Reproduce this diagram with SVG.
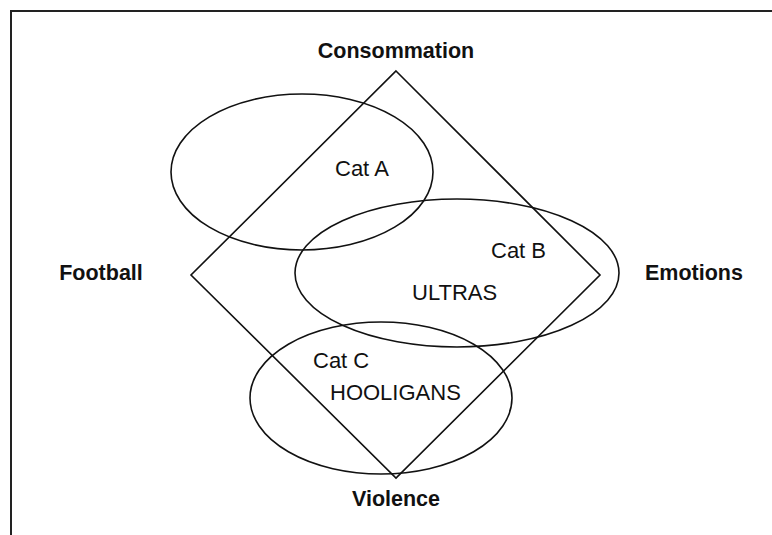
<svg xmlns="http://www.w3.org/2000/svg" width="772" height="535" viewBox="0 0 772 535">
<style>
.shape{fill:none;stroke:#111;stroke-width:1.6}
.lbl{font-family:"Liberation Sans",Arial,sans-serif;font-size:21.5px;font-weight:bold;fill:#111;text-anchor:middle}
.txt{font-family:"Liberation Sans",Arial,sans-serif;font-size:22px;fill:#111}
</style>
<rect width="772" height="535" fill="#fff"/>
<g id="frame">
<path d="M11,535 V11 H772" fill="none" stroke="#222" stroke-width="2"/>
</g>
<g id="connectors">
<polygon class="shape" points="396,71 600,275 396,478 191,275"/>
</g>
<g id="catA">
<ellipse class="shape" cx="302" cy="172" rx="131" ry="78"/>
<text class="txt" x="335" y="176">Cat A</text>
</g>
<g id="catB">
<ellipse class="shape" cx="457" cy="273" rx="162" ry="74"/>
<text class="txt" x="491" y="258">Cat B</text>
<text class="txt" x="412" y="300">ULTRAS</text>
</g>
<g id="catC">
<ellipse class="shape" cx="381" cy="398" rx="131" ry="76"/>
<text class="txt" x="313" y="368">Cat C</text>
<text class="txt" x="330" y="400">HOOLIGANS</text>
</g>
<g id="consommation"><text class="lbl" x="396" y="58">Consommation</text></g>
<g id="football"><text class="lbl" x="101" y="280">Football</text></g>
<g id="emotions"><text class="lbl" x="694" y="280">Emotions</text></g>
<g id="violence"><text class="lbl" x="396" y="506">Violence</text></g>
</svg>
